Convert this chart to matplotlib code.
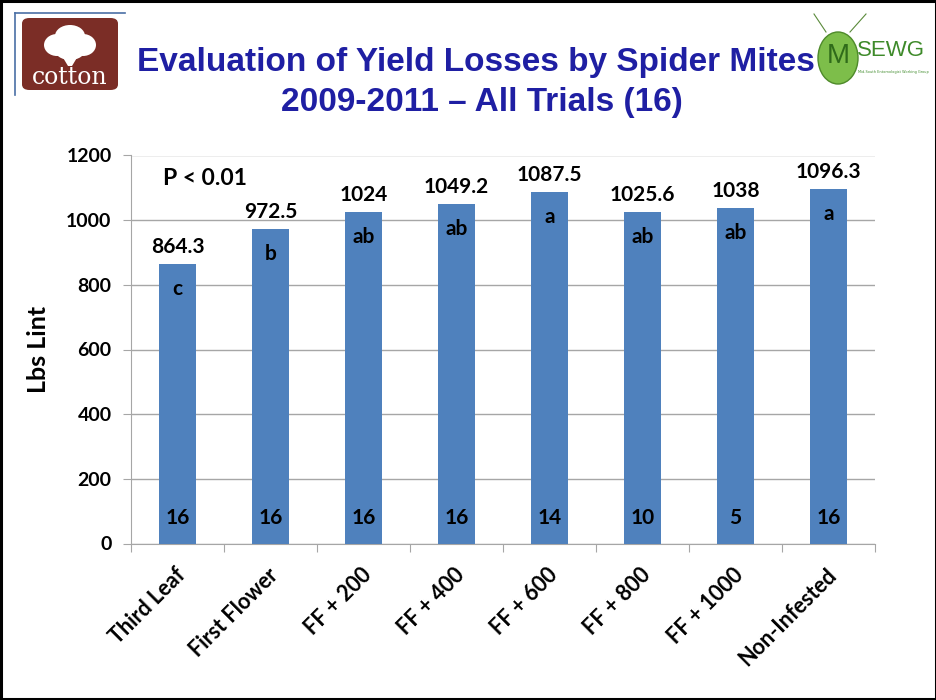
import matplotlib
matplotlib.use("Agg")
import matplotlib.pyplot as plt
import matplotlib.transforms as mtransforms
from matplotlib.patches import FancyBboxPatch, Rectangle, Ellipse, Polygon
from matplotlib.lines import Line2D

# --- data ---
categories = ["Third Leaf", "First Flower", "FF + 200", "FF + 400",
              "FF + 600", "FF + 800", "FF + 1000", "Non-Infested"]
yields = [864.3, 972.5, 1024, 1049.2, 1087.5, 1025.6, 1038, 1096.3]
value_labels = ["864.3", "972.5", "1024", "1049.2", "1087.5", "1025.6", "1038", "1096.3"]
groups = ["c", "b", "ab", "ab", "a", "ab", "ab", "a"]
n_trials = [16, 16, 16, 16, 14, 10, 5, 16]
y_ticks = [0, 200, 400, 600, 800, 1000, 1200]

BAR = "#4F81BD"
TITLE = "#1F1FA3"
GRID = "#A6A6A6"
FONT = "Lato"

W, H = 937, 700
fig = plt.figure(figsize=(W / 100, H / 100), dpi=100)
fig.patch.set_facecolor("white")


def fx(px):
    return px / W


def fy(py):
    return 1 - py / H


# slide frame
fig.add_artist(Rectangle((0.0015, 0.002), 0.997, 0.996, transform=fig.transFigure,
                         fill=False, edgecolor="black", linewidth=2.2))
# thin blue corner rule
fig.add_artist(Line2D([fx(15), fx(125)], [fy(13), fy(13)],
                      transform=fig.transFigure, color="#4A6FA5", lw=1.2))
fig.add_artist(Line2D([fx(15), fx(15)], [fy(13), fy(95)],
                      transform=fig.transFigure, color="#4A6FA5", lw=1.2))

# cotton badge
fig.add_artist(FancyBboxPatch((fx(22), fy(90)), 96 / W, 72 / H,
                              boxstyle="round,pad=0,rounding_size=0.008",
                              transform=fig.transFigure, facecolor="#7B2D26",
                              edgecolor="none"))
for cx, cy, w, h in [(70, 36, 30, 22), (57, 45, 26, 22), (83, 45, 26, 22), (70, 50, 30, 20)]:
    fig.add_artist(Ellipse((fx(cx), fy(cy)), w / W, h / H,
                           transform=fig.transFigure, facecolor="white", edgecolor="none"))
fig.add_artist(Polygon([(fx(62), fy(56)), (fx(78), fy(56)), (fx(72), fy(66)), (fx(68), fy(66))],
                       closed=True, transform=fig.transFigure, facecolor="white",
                       edgecolor="none"))
fig.text(fx(70), fy(77), "cotton", transform=fig.transFigure, ha="center",
         va="center", color="white", fontsize=17, family="DejaVu Serif")

# MSEWG badge
fig.add_artist(Line2D([fx(826), fx(814)], [fy(32), fy(14)], transform=fig.transFigure,
                      color="#5A8A3A", lw=0.8))
fig.add_artist(Line2D([fx(850), fx(866)], [fy(32), fy(14)], transform=fig.transFigure,
                      color="#5A8A3A", lw=0.8))
fig.add_artist(Ellipse((fx(838), fy(58)), 40 / W, 52 / H,
                       transform=fig.transFigure, facecolor="#7DBE4A", edgecolor="#4E8A2A", lw=1))
fig.text(fx(838), fy(56), "M", transform=fig.transFigure, ha="center", va="center",
         color="#2F6B1A", fontsize=20, family="Liberation Sans")
fig.text(fx(857), fy(50), "SEWG", transform=fig.transFigure, ha="left", va="center",
         color="#3E8A2A", fontsize=16, family="Liberation Sans")
fig.text(fx(858), fy(72), "Mid-South Entomologist Working Group",
         transform=fig.transFigure, ha="left", va="center", color="#3E8A2A", fontsize=2.5)

# title
fig.text(fx(476), fy(62), "Evaluation of Yield Losses by Spider Mites",
         transform=fig.transFigure, ha="center", va="center", color=TITLE,
         fontsize=24, fontweight="bold", family="Liberation Sans")
fig.text(fx(482), fy(102), "2009-2011 \u2013 All Trials (16)",
         transform=fig.transFigure, ha="center", va="center", color=TITLE,
         fontsize=24, fontweight="bold", family="Liberation Sans")

ax = fig.add_axes([fx(131), fy(543.5), 744 / W, 388 / H])
x = list(range(len(categories)))
ax.bar(x, yields, width=0.4, color=BAR, zorder=3)

ax.set_xlim(-0.5, len(categories) - 0.5)
ax.set_ylim(0, 1200)
ax.set_yticks(y_ticks)
ax.set_yticklabels([str(v) for v in y_ticks], fontsize=14, fontweight="bold", family=FONT)
ax.yaxis.grid(True, color=GRID, linewidth=1, zorder=0)
ax.tick_params(axis="y", length=6, color=GRID, pad=8)

# category boundaries as tick marks, labels at the centers
ax.set_xticks([i - 0.5 for i in range(len(categories) + 1)])
ax.set_xticklabels([])
ax.set_xticks(x, minor=True)
ax.set_xticklabels(categories, minor=True, rotation=45, ha="right",
                   rotation_mode="anchor", fontsize=15.5, fontweight="bold",
                   family=FONT)
ax.tick_params(axis="x", which="major", length=6, color=GRID)
ax.tick_params(axis="x", which="minor", length=0, pad=15)
shift = mtransforms.ScaledTranslation(-3 / 100, 0, fig.dpi_scale_trans)
for lab in ax.get_xticklabels(minor=True):
    lab.set_transform(lab.get_transform() + shift)

for side in ["top", "right"]:
    ax.spines[side].set_visible(False)
for side in ["left", "bottom"]:
    ax.spines[side].set_color(GRID)

ax.set_ylabel("Lbs Lint", fontsize=18, fontweight="bold", family=FONT, labelpad=12)

for xi, v, vl, g, n in zip(x, yields, value_labels, groups, n_trials):
    ax.annotate(vl, (xi, v), xytext=(0, 5), textcoords="offset points",
                ha="center", va="bottom", fontsize=15, fontweight="bold", family=FONT)
    ax.annotate(g, (xi, v), xytext=(0, -18), textcoords="offset points",
                ha="center", va="center", fontsize=15, fontweight="bold", family=FONT)
    ax.annotate(str(n), (xi, 0), xytext=(0, 18), textcoords="offset points",
                ha="center", va="center", fontsize=15, fontweight="bold", family=FONT)

ax.text(0.3, 1130, "P < 0.01", ha="center", va="center", fontsize=16.5,
        fontweight="bold", family=FONT)

fig.savefig("out.png", dpi=100, facecolor="white")
